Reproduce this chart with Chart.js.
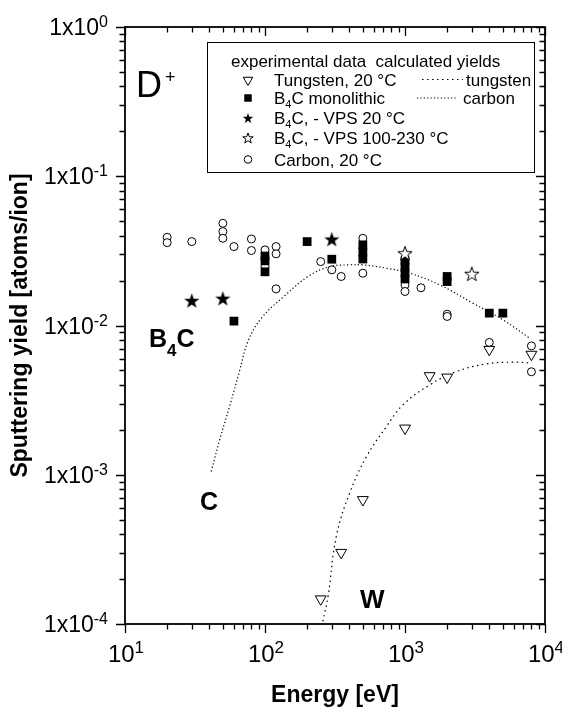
<!DOCTYPE html>
<html>
<head>
<meta charset="utf-8">
<script src="https://cdn.jsdelivr.net/npm/chart.js@4.4.1/dist/chart.umd.min.js"></script>
<style>
  html, body { margin: 0; padding: 0; background: #fff; }
  #wrap { width: 562px; height: 707px; }
</style>
</head>
<body>
<div id="wrap"><canvas id="yield-chart" width="562" height="707"></canvas></div>
<script>
// measured points (energy in eV, yield in atoms/ion)
const tungstenE = [250, 350, 500, 1000, 1500, 2000, 4000, 8000];
const tungstenY = [0.000147, 0.000301, 0.00068, 0.00205, 0.0046, 0.0045, 0.0069, 0.0064];

const b4cMonoE = [60, 100, 100, 100, 200, 300, 500, 500, 500, 1000, 1000, 1000, 1000, 2000, 2000, 4000, 5000];
const b4cMonoY = [0.0107, 0.0292, 0.0271, 0.0229, 0.0365, 0.0278, 0.0347, 0.0311, 0.0279, 0.0271, 0.0247, 0.0225, 0.0205, 0.0213, 0.0197, 0.0121, 0.0121];

const vpsColdE = [30, 50, 300];
const vpsColdY = [0.0147, 0.0152, 0.0379];

const vpsHotE = [1000, 3000];
const vpsHotY = [0.0305, 0.0222];

const carbonE = [20, 20, 30, 50, 50, 50, 60, 80, 80, 100, 100, 120, 120, 120, 250, 300, 350, 500, 500, 1000, 1000, 1300, 2000, 2000, 4000, 8000, 8000];
const carbonY = [0.039, 0.0359, 0.0365, 0.0484, 0.0426, 0.0384, 0.0338, 0.038, 0.0318, 0.0321, 0.0248, 0.0338, 0.0302, 0.0176, 0.0268, 0.0236, 0.0213, 0.0384, 0.0224, 0.0187, 0.0169, 0.0179, 0.0119, 0.0115, 0.0077, 0.0073, 0.0049];

// calculated yields
const wCalcE = [259, 282, 323, 402, 530, 736, 967, 1502, 2328, 3818, 5916, 8000];
const wCalcY = [0.000104, 0.000153, 0.000386, 0.000753, 0.00132, 0.0021, 0.00294, 0.004, 0.00491, 0.00553, 0.00568, 0.0056];

const cCalcE = [41.3, 47.4, 55.8, 65.8, 75.5, 94.2, 138, 203, 290, 402, 501, 736, 1081, 1770, 3062, 5018, 7786];
const cCalcY = [0.00105, 0.00171, 0.00286, 0.00496, 0.0078, 0.0112, 0.0158, 0.0213, 0.0248, 0.0255, 0.0255, 0.0242, 0.0224, 0.0187, 0.0141, 0.0109, 0.00822];

// axis tick labels
const xTickValues = [10, 100, 1000, 10000];
const xTickBase = '10';
const xTickExp = ['1', '2', '3', '4'];
const yTickValues = [1, 0.1, 0.01, 0.001, 0.0001];
const yTickBase = '1x10';
const yTickExp = ['0', '-1', '-2', '-3', '-4'];

const FONT = '"Liberation Sans", Arial, sans-serif';
Chart.defaults.font.family = FONT;
Chart.defaults.color = '#000';

const toXY = (xs, ys) => xs.map((v, i) => ({ x: v, y: ys[i] }));

function starImage(outer, filled) {
  const size = Math.ceil(outer * 2 + 3);
  const c = document.createElement('canvas');
  c.width = size;
  c.height = size;
  const g = c.getContext('2d');
  const cx = size / 2, cy = size / 2 + outer * 0.095;
  g.beginPath();
  for (let i = 0; i < 10; i++) {
    const r = i % 2 === 0 ? outer : outer * 0.4;
    const ang = -Math.PI / 2 + i * Math.PI / 5;
    const px = cx + r * Math.cos(ang), py = cy + r * Math.sin(ang);
    if (i === 0) g.moveTo(px, py); else g.lineTo(px, py);
  }
  g.closePath();
  if (filled) {
    g.fillStyle = '#000';
    g.fill();
  } else {
    g.fillStyle = '#fff';
    g.fill();
    g.lineWidth = 1;
    g.strokeStyle = '#000';
    g.stroke();
  }
  return c;
}

const starFilled = starImage(8, true);
const starOpen = starImage(7.5, false);
const starFilledSmall = starImage(5.5, true);
const starOpenSmall = starImage(5.5, false);

function logTicks(min, max) {
  const out = [];
  for (let e = Math.round(Math.log10(min)); e < Math.round(Math.log10(max)); e++) {
    for (let m = 1; m < 10; m++) out.push({ v: m * Math.pow(10, e), major: m === 1 });
  }
  out.push({ v: max, major: true });
  return out;
}

// draws a run of [text, size, dy, bold] pieces, returns end x
function drawRun(ctx, parts, x, y) {
  parts.forEach(([t, size, dy, bold]) => {
    ctx.font = (bold ? 'bold ' : '') + size + 'px ' + FONT;
    ctx.fillText(t, x, y + dy);
    x += ctx.measureText(t).width;
  });
  return x;
}

function marker(ctx, opts, x, y) {
  ctx.save();
  ctx.fillStyle = opts.fill;
  ctx.strokeStyle = '#000';
  ctx.lineWidth = 1;
  Chart.helpers.drawPoint(ctx, { pointStyle: opts.style, rotation: opts.rotation || 0, radius: opts.radius, borderWidth: opts.border }, x, y);
  ctx.restore();
}

const frame = {
  id: 'frame',
  afterDraw(chart) {
    const { ctx, chartArea: a, scales: { x, y } } = chart;
    ctx.save();
    ctx.strokeStyle = '#000';
    ctx.fillStyle = '#000';

    // ticks: outward on left/bottom, inward on top/right
    ctx.lineWidth = 1.3;
    ctx.beginPath();
    logTicks(x.min, x.max).forEach(t => {
      const px = Math.round(x.getPixelForValue(t.v)) + 0.5;
      const len = t.major ? 9 : 5.5;
      ctx.moveTo(px, a.bottom); ctx.lineTo(px, a.bottom + len);
      ctx.moveTo(px, a.top); ctx.lineTo(px, a.top + len);
    });
    logTicks(y.min, y.max).forEach(t => {
      const py = Math.round(y.getPixelForValue(t.v)) + 0.5;
      const len = t.major ? 9 : 5.5;
      ctx.moveTo(a.left, py); ctx.lineTo(a.left - len, py);
      ctx.moveTo(a.right, py); ctx.lineTo(a.right - len, py);
    });
    ctx.stroke();

    ctx.lineWidth = 1.8;
    ctx.strokeRect(a.left, a.top, a.right - a.left, a.bottom - a.top);

    // tick labels with superscripts
    ctx.textAlign = 'left';
    ctx.textBaseline = 'alphabetic';
    yTickValues.forEach((v, i) => {
      const py = y.getPixelForValue(v);
      ctx.font = '23px ' + FONT;
      const wb = ctx.measureText(yTickBase).width;
      ctx.font = '16px ' + FONT;
      const ws = ctx.measureText(yTickExp[i]).width;
      const right = a.left - 17;
      drawRun(ctx, [[yTickBase, 23, 8], [yTickExp[i], 16, 0]], right - ws - wb, py);
    });
    xTickValues.forEach((v, i) => {
      const px = x.getPixelForValue(v);
      ctx.font = '24px ' + FONT;
      const wb = ctx.measureText(xTickBase).width;
      ctx.font = '17px ' + FONT;
      const ws = ctx.measureText(xTickExp[i]).width;
      drawRun(ctx, [[xTickBase, 24, 0], [xTickExp[i], 17, -9]], px - (wb + ws) / 2 + 1, a.bottom + 38);
    });

    // annotations
    drawRun(ctx, [['D', 36, 0]], a.left + 11, a.top + 70);
    drawRun(ctx, [['+', 18, 0]], a.left + 40, a.top + 56);
    drawRun(ctx, [['B', 25, 0, true], ['4', 17, 9, true], ['C', 25, 0, true]], a.left + 24, a.top + 320);
    drawRun(ctx, [['C', 25, 0, true]], a.left + 75, a.top + 483);
    drawRun(ctx, [['W', 26, 0, true]], a.left + 235, a.top + 581);

    // legend
    const lx = 207.5, ly = 42.5;
    ctx.lineWidth = 1;
    ctx.fillStyle = '#fff';
    ctx.fillRect(lx, ly, 327, 130);
    ctx.strokeRect(lx, ly, 327, 130);
    ctx.fillStyle = '#000';
    drawRun(ctx, [['experimental data  calculated yields', 17, 0]], 231, 67);
    const rows = [85.5, 104, 124, 144, 165.5];
    const mx = 248, tx = 274;
    marker(ctx, { style: 'triangle', rotation: 180, radius: 5.5, fill: '#fff', border: 1 }, mx, rows[0] - 5.5);
    marker(ctx, { style: 'rect', radius: 5.3, fill: '#000', border: 0 }, mx, rows[1] - 6);
    marker(ctx, { style: starFilledSmall, radius: 5.5, fill: '#000', border: 0 }, mx, rows[2] - 6);
    marker(ctx, { style: starOpenSmall, radius: 5.5, fill: '#fff', border: 0 }, mx, rows[3] - 6);
    marker(ctx, { style: 'circle', radius: 3.8, fill: '#fff', border: 1 }, mx, rows[4] - 6);
    ctx.fillStyle = '#000';
    drawRun(ctx, [['Tungsten, 20 °C', 17, 0]], tx, rows[0]);
    drawRun(ctx, [['B', 17, 0], ['4', 11, 4], ['C monolithic', 17, 0]], tx, rows[1]);
    drawRun(ctx, [['B', 17, 0], ['4', 11, 4], ['C, - VPS 20 °C', 17, 0]], tx, rows[2]);
    drawRun(ctx, [['B', 17, 0], ['4', 11, 4], ['C, - VPS 100-230 °C', 17, 0]], tx, rows[3]);
    drawRun(ctx, [['Carbon, 20 °C', 17, 0]], tx, rows[4]);

    ctx.lineWidth = 1.2;
    ctx.setLineDash([1.5, 3.5]);
    ctx.beginPath(); ctx.moveTo(422, rows[0] - 6); ctx.lineTo(463, rows[0] - 6); ctx.stroke();
    ctx.setLineDash([1.2, 2.2]);
    ctx.beginPath(); ctx.moveTo(417, rows[1] - 6); ctx.lineTo(456, rows[1] - 6); ctx.stroke();
    ctx.setLineDash([]);
    drawRun(ctx, [['tungsten', 17, 0]], 466, rows[0]);
    drawRun(ctx, [['carbon', 17, 0]], 463, rows[1]);

    ctx.restore();
  }
};

const data = {
  datasets: [
    {
      label: 'B4C, - VPS 100-230 °C',
      data: toXY(vpsHotE, vpsHotY),
      pointStyle: starOpen,
      pointRadius: 7.5
    },
    {
      label: 'B4C, - VPS 20 °C',
      data: toXY(vpsColdE, vpsColdY),
      pointStyle: starFilled,
      pointRadius: 8
    },
    {
      label: 'B4C monolithic',
      data: toXY(b4cMonoE, b4cMonoY),
      pointStyle: 'rect',
      pointRadius: 6.2,
      backgroundColor: '#000',
      borderColor: '#000',
      borderWidth: 0
    },
    {
      label: 'Tungsten, 20 °C',
      data: toXY(tungstenE, tungstenY),
      pointStyle: 'triangle',
      rotation: 180,
      pointRadius: 6.3,
      backgroundColor: '#fff',
      borderColor: '#000',
      borderWidth: 1
    },
    {
      label: 'Carbon, 20 °C',
      data: toXY(carbonE, carbonY),
      pointStyle: 'circle',
      pointRadius: 4,
      backgroundColor: '#fff',
      borderColor: '#000',
      borderWidth: 1
    },
    {
      label: 'tungsten',
      data: toXY(wCalcE, wCalcY),
      showLine: true,
      pointRadius: 0,
      borderColor: '#000',
      borderWidth: 1.2,
      borderDash: [1.5, 3.5],
      tension: 0.4
    },
    {
      label: 'carbon',
      data: toXY(cCalcE, cCalcY),
      showLine: true,
      pointRadius: 0,
      borderColor: '#000',
      borderWidth: 1.2,
      borderDash: [1.2, 2.4],
      tension: 0.4
    }
  ]
};

new Chart(document.getElementById('yield-chart'), {
  type: 'scatter',
  data: data,
  options: {
    responsive: false,
    devicePixelRatio: 1,
    animation: false,
    events: [],
    layout: { padding: { top: 27, right: 17, left: 0, bottom: 0 } },
    plugins: { legend: { display: false }, tooltip: { enabled: false } },
    scales: {
      x: {
        type: 'logarithmic',
        min: 10,
        max: 10000,
        grid: { display: false },
        border: { display: false },
        ticks: { display: false },
        title: {
          display: true,
          text: 'Energy [eV]',
          font: { size: 23, weight: 'bold', lineHeight: 1 },
          padding: { top: 0, bottom: 0 }
        },
        afterFit: s => { s.height = 83; }
      },
      y: {
        type: 'logarithmic',
        min: 0.0001,
        max: 1,
        grid: { display: false },
        border: { display: false },
        ticks: { display: false },
        title: {
          display: true,
          text: 'Sputtering yield [atoms/ion]',
          font: { size: 23, weight: 'bold', lineHeight: 1 },
          padding: { top: 9, bottom: 0 }
        },
        afterFit: s => { s.width = 125; }
      }
    }
  },
  plugins: [frame]
});
</script>
</body>
</html>
